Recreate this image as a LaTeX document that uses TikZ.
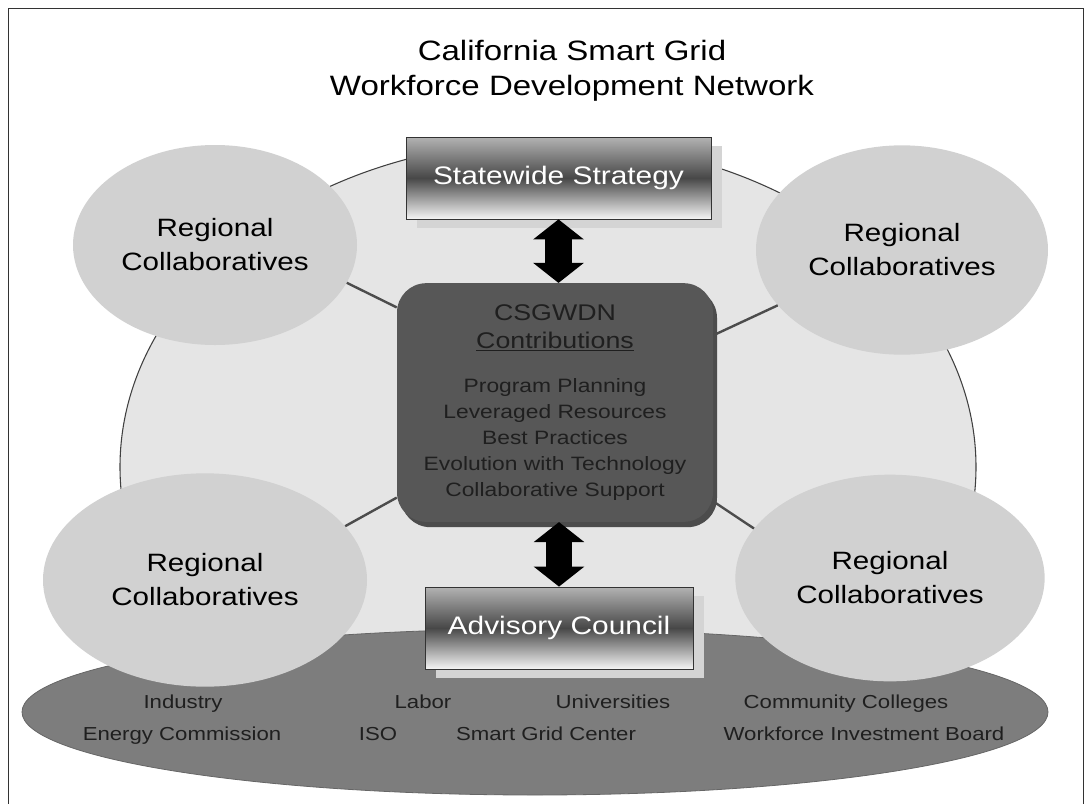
\documentclass[tikz,border=0pt]{standalone}
\usepackage{fontspec}
\setmainfont[FakeStretch=1.18]{Liberation Sans}
\usetikzlibrary{shapes.geometric,shadows,arrows.meta}

\begin{document}
\begin{tikzpicture}[x=0.75pt,y=-0.75pt,
  region/.style={ellipse,fill=black!18,align=center,inner sep=0pt,
    font=\fontsize{18.8}{25.5}\selectfont},
  bar/.style={draw=black!80,line width=0.6pt,top color=black!30,bottom color=black!4,
    middle color=black!72,text=white,minimum height=61.5pt,
    font=\fontsize{19}{23}\selectfont,
    drop shadow={shadow xshift=8pt,shadow yshift=-7pt,fill=black!17,opacity=1}},
  hub/.style={rounded corners=22pt,fill=black!66,text=black!88,align=center,
    minimum width=237pt,minimum height=179pt,
    font=\fontsize{14.5}{19.5}\selectfont,
    drop shadow={shadow xshift=3pt,shadow yshift=-4pt,fill=black!85,opacity=0.8}},
  member/.style={anchor=base,text=black!88,font=\fontsize{14.1}{17}\selectfont},
  link/.style={draw=black!70,line width=1.8pt},
  updown/.style={line width=20pt,
    {Triangle[width=38pt,length=15pt,line width=0pt]}-{Triangle[width=38pt,length=15pt,line width=0pt]}}]
\useasboundingbox (0,0) rectangle (1090,804);
\draw[black!80,line width=0.7pt] (8,806) |- (1083,8) -- (1083,806);

% title
\node[align=center,font=\fontsize{21}{26}\selectfont] (title) at (572,71)
  {California Smart Grid\\Workforce Development Network};

% network and partners
\filldraw[fill=black!10,draw=black!75,line width=0.8pt] (548,467) ellipse [x radius=428,y radius=326];
\filldraw[fill=black!51,draw=black!60,line width=0.6pt] (535,712) ellipse [x radius=513,y radius=83];

% regional collaboratives
\node[region,minimum width=213pt,minimum height=150pt] (rtl) at (215,245) {Regional\\Collaboratives};
\node[region,minimum width=219pt,minimum height=157pt] (rtr) at (902,250) {Regional\\Collaboratives};
\node[region,minimum width=243pt,minimum height=160pt] (rbl) at (205,580) {Regional\\Collaboratives};
\node[region,minimum width=232pt,minimum height=155pt] (rbr) at (890,578) {Regional\\Collaboratives};

% contributions
\node[hub] (csg) at (555,402.5) {\fontsize{17}{21}\selectfont CSGWDN\\[1.5pt]
  \fontsize{17}{21}\selectfont\underline{Contributions}\\[14pt]
  Program Planning\\Leveraged Resources\\Best Practices\\
  Evolution with Technology\\Collaborative Support};
\draw[link] (csg.149) -- (rtl.-16);
\draw[link] (csg.23) -- (rtr.-156);
\draw[link] (csg.211) -- (rbl.21);
\draw[link] (csg.-32) -- (rbr.160);

\node[bar,minimum width=228.75pt] (sw) at (558.5,178) {Statewide Strategy};
\node[bar,minimum width=201pt] (adv) at (559,628) {Advisory Council};
\draw[updown] (sw.south) -- (sw.south |- csg.north);
\draw[updown] (csg.south -| adv.north) -- (adv.north);

% partners
\node[member] (ind) at (183,708) {Industry};
\node[member] (lab) at (423,708) {Labor};
\node[member] (uni) at (613,708) {Universities};
\node[member] (cc) at (846,708) {Community Colleges};
\node[member] (ec) at (182,740) {Energy Commission};
\node[member] (iso) at (378,740) {ISO};
\node[member] (sgc) at (546,740) {Smart Grid Center};
\node[member] (wib) at (864,740) {Workforce Investment Board};
\end{tikzpicture}
\end{document}
